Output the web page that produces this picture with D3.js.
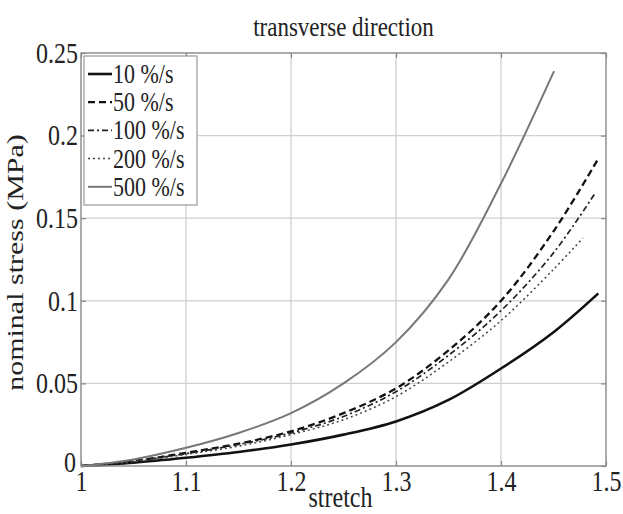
<!DOCTYPE html>
<html>
<head>
<meta charset="utf-8">
<script src="https://cdn.jsdelivr.net/npm/d3@7"></script>
<style>
  html, body { margin: 0; padding: 0; background: #fff; }
  svg text { font-family: "Liberation Serif", "Times New Roman", serif; fill: #222; }
</style>
</head>
<body>
<svg id="chart" width="623" height="514"></svg>
<script>
// Tick values and labels
const xTicks = [1, 1.1, 1.2, 1.3, 1.4, 1.5];
const xTickLabels = ["1", "1.1", "1.2", "1.3", "1.4", "1.5"];
const yTicks = [0, 0.05, 0.1, 0.15, 0.2, 0.25];
const yTickLabels = ["0", "0.05", "0.1", "0.15", "0.2", "0.25"];

// Series names (strain rates)
const seriesNames = ["10 %/s", "50 %/s", "100 %/s", "200 %/s", "500 %/s"];

// Stretch / nominal stress (MPa) per strain rate
const stretch10  = [1, 1.05, 1.1, 1.15, 1.2, 1.25, 1.3, 1.35, 1.4, 1.45, 1.4927];
const stress10   = [0, 0.002, 0.005, 0.0085, 0.013, 0.019, 0.027, 0.040, 0.059, 0.081, 0.1045];
const stretch50  = [1, 1.05, 1.1, 1.15, 1.2, 1.25, 1.3, 1.35, 1.4, 1.45, 1.4917];
const stress50   = [0, 0.003, 0.008, 0.0135, 0.021, 0.032, 0.047, 0.070, 0.100, 0.142, 0.185];
const stretch100 = [1, 1.05, 1.1, 1.15, 1.2, 1.25, 1.3, 1.35, 1.4, 1.45, 1.4895];
const stress100  = [0, 0.003, 0.0075, 0.013, 0.020, 0.030, 0.045, 0.067, 0.094, 0.129, 0.165];
const stretch200 = [1, 1.05, 1.1, 1.15, 1.2, 1.25, 1.3, 1.35, 1.4, 1.45, 1.478];
const stress200  = [0, 0.0025, 0.007, 0.012, 0.019, 0.028, 0.042, 0.063, 0.088, 0.119, 0.138];
const stretch500 = [1, 1.05, 1.1, 1.15, 1.2, 1.25, 1.3, 1.35, 1.4, 1.4505];
const stress500  = [0, 0.004, 0.011, 0.020, 0.032, 0.050, 0.075, 0.113, 0.171, 0.239];

const stretchSets = [stretch10, stretch50, stretch100, stretch200, stretch500];
const stressSets  = [stress10, stress50, stress100, stress200, stress500];

// Line styles per series
const styles = [
  { stroke: "#111", width: 2.6, dash: null },
  { stroke: "#111", width: 2.3, dash: "7,4" },
  { stroke: "#222", width: 1.7, dash: "6,3,2,3" },
  { stroke: "#444", width: 1.5, dash: "2,3" },
  { stroke: "#777", width: 2.0, dash: null }
];

const svg = d3.select("#chart");
const margin = { left: 81, right: 17, top: 53, bottom: 48 };
const W = 623, H = 514;
const x0 = margin.left, x1 = W - margin.right;
const y0 = H - margin.bottom, y1 = margin.top;

const x = d3.scaleLinear().domain([1, 1.5]).range([x0, x1]);
const y = d3.scaleLinear().domain([0, 0.25]).range([y0, y1]);

const VS = 1.2; // vertical stretch of the lettering

// Grid
const grid = svg.append("g");
grid.selectAll("line.gx").data(xTicks.slice(1, -1)).join("line")
  .attr("x1", d => x(d)).attr("x2", d => x(d))
  .attr("y1", y0).attr("y2", y1)
  .attr("stroke", "#cfcfcf").attr("stroke-width", 1.3);
grid.selectAll("line.gy").data(yTicks.slice(1, -1)).join("line")
  .attr("x1", x0).attr("x2", x1)
  .attr("y1", d => y(d)).attr("y2", d => y(d))
  .attr("stroke", "#cfcfcf").attr("stroke-width", 1.3);

// Curves
const line = d3.line().curve(d3.curveCatmullRom.alpha(0.5))
  .x(d => x(d[0])).y(d => y(d[1]));
const curves = svg.append("g");
stretchSets.forEach((xs, i) => {
  const pts = xs.map((v, k) => [v, stressSets[i][k]]);
  curves.append("path")
    .attr("d", line(pts))
    .attr("fill", "none")
    .attr("stroke", styles[i].stroke)
    .attr("stroke-width", styles[i].width)
    .attr("stroke-dasharray", styles[i].dash)
    .attr("stroke-linejoin", "round");
});

// Axes (ticks inside, box all round)
const tickLen = 5;
function styleAxis(g) {
  g.select(".domain").remove();
  g.selectAll(".tick line").attr("stroke", "#888").attr("stroke-width", 1.2);
}
const axB = svg.append("g").attr("transform", `translate(0,${y0})`)
  .call(d3.axisBottom(x).tickValues(xTicks).tickSize(-tickLen)
    .tickFormat((d, i) => xTickLabels[i]));
axB.call(styleAxis);
axB.selectAll(".tick text").attr("font-size", 24).attr("dy", "0.71em")
  .attr("y", 4).attr("transform", `scale(1,${VS})`);

const axL = svg.append("g").attr("transform", `translate(${x0},0)`)
  .call(d3.axisLeft(y).tickValues(yTicks).tickSize(-tickLen).tickPadding(3)
    .tickFormat((d, i) => yTickLabels[i]));
axL.call(styleAxis);
axL.selectAll(".tick text").attr("font-size", 24).attr("dy", "0.32em")
  .attr("transform", `scale(1,${VS})`);
// the zero label sits a little higher, clear of the first stretch label
axL.selectAll(".tick text").filter((d, i) => i === 0)
  .attr("y", -3).attr("x", -5);

const axT = svg.append("g").attr("transform", `translate(0,${y1})`)
  .call(d3.axisTop(x).tickValues(xTicks).tickSize(-tickLen).tickFormat(""));
axT.call(styleAxis);
const axR = svg.append("g").attr("transform", `translate(${x1},0)`)
  .call(d3.axisRight(y).tickValues(yTicks).tickSize(-tickLen).tickFormat(""));
axR.call(styleAxis);

svg.append("rect")
  .attr("x", x0).attr("y", y1).attr("width", x1 - x0).attr("height", y0 - y1)
  .attr("fill", "none").attr("stroke", "#888").attr("stroke-width", 1.4);

// Title and axis labels
svg.append("text")
  .attr("transform", `translate(${(x0 + x1) / 2},36) scale(1,${VS})`)
  .attr("text-anchor", "middle").attr("font-size", 23)
  .text("transverse direction");
svg.append("text")
  .attr("transform", `translate(${(x0 + x1) / 2 - 3},507) scale(1,${VS})`)
  .attr("text-anchor", "middle").attr("font-size", 24)
  .text("stretch");
svg.append("text")
  .attr("transform", `translate(23,${(y0 + y1) / 2 + 3}) rotate(-90) scale(1.25,1)`)
  .attr("text-anchor", "middle").attr("font-size", 24)
  .text("nominal stress (MPa)");

// Legend
const lg = svg.append("g");
lg.append("rect").attr("x", 84).attr("y", 56).attr("width", 113).attr("height", 149)
  .attr("fill", "#fff").attr("stroke", "#999").attr("stroke-width", 1.2);
seriesNames.forEach((name, i) => {
  const cy = 74 + i * 28.2;
  lg.append("line").attr("x1", 88).attr("x2", 112).attr("y1", cy).attr("y2", cy)
    .attr("stroke", styles[i].stroke).attr("stroke-width", styles[i].width)
    .attr("stroke-dasharray", styles[i].dash);
  lg.append("text")
    .attr("transform", `translate(113,${cy}) scale(1,${VS})`)
    .attr("dy", "0.34em").attr("font-size", 22)
    .text(name);
});
</script>
</body>
</html>
